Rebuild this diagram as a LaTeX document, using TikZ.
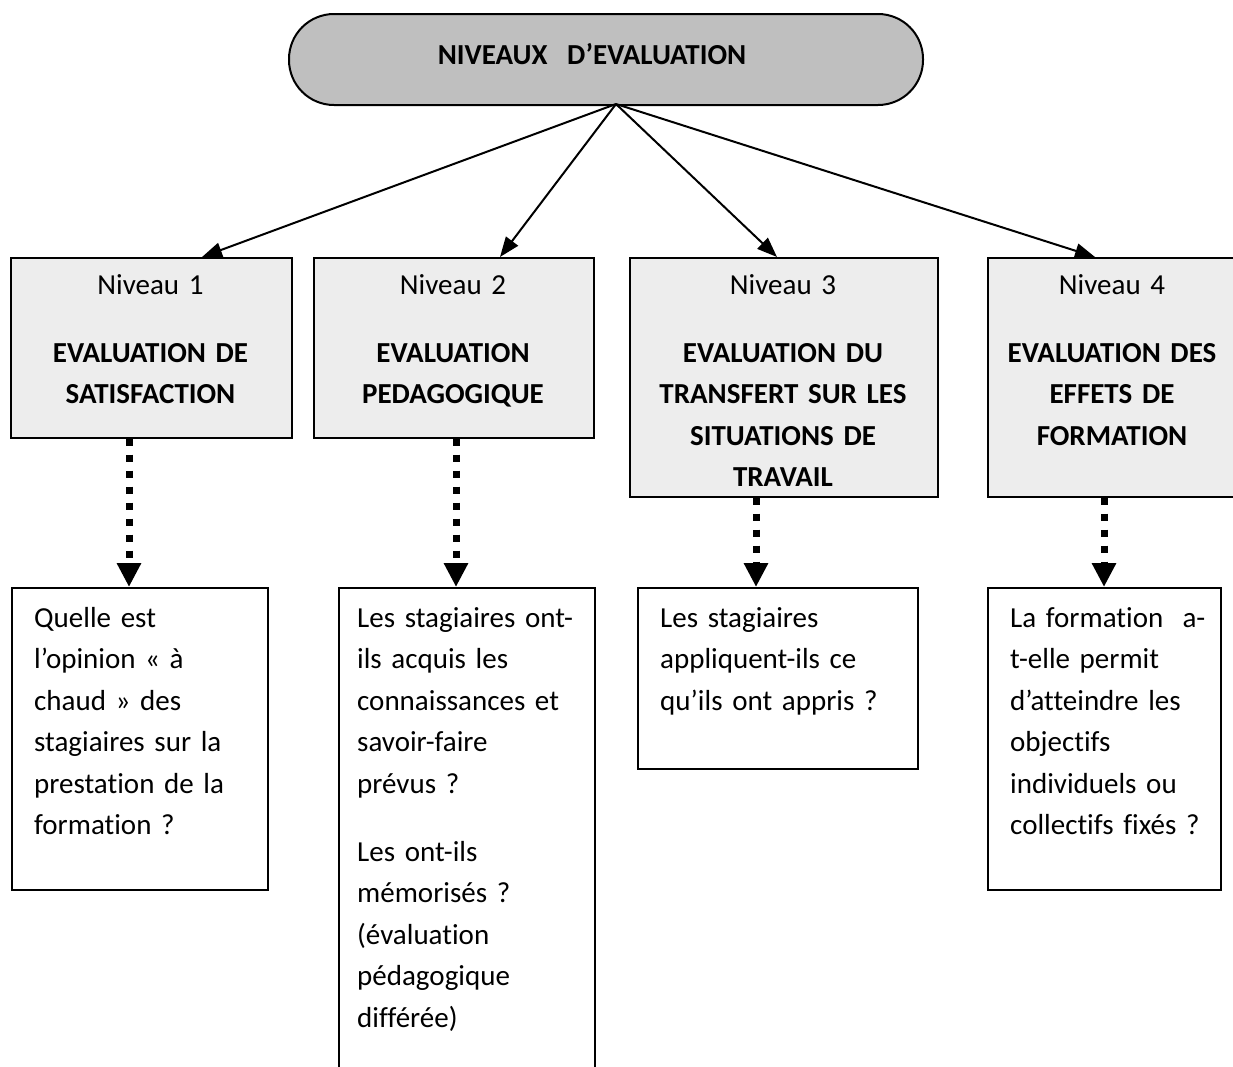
\documentclass[tikz,border=0pt]{standalone}
\usepackage{fontspec}
\setmainfont[Ligatures=NoCommon]{Carlito}
\usetikzlibrary{arrows.meta}
\definecolor{topgray}{HTML}{BFBFBF}
\definecolor{lvlgray}{HTML}{EDEDED}
\begin{document}
\begin{tikzpicture}[x=1pt,y=-1pt,
  topbox/.style={draw=black, line width=2pt, fill=topgray, rounded corners=45pt, inner sep=0pt, anchor=north west},
  lvlbox/.style={draw=black, line width=1.6pt, fill=lvlgray, inner sep=0pt, anchor=north west},
  ansbox/.style={draw=black, line width=1.6pt, fill=white, inner sep=0pt, anchor=north west},
  ltxt/.style={inner sep=0pt, text width=320pt, align=left, anchor=base west, font=\fontsize{29}{41.5}\selectfont},
  ctxt/.style={inner sep=0pt, text width=320pt, align=center, anchor=base, font=\fontsize{29}{41.5}\selectfont},
  link/.style={line width=2pt, -{Triangle[length=20pt,width=15pt]}},
  dotarrow/.style={line width=7pt, dash pattern=on 7pt off 9pt, -{Triangle[length=24pt,width=23pt]}}
]
\clip (0,0) rectangle (1233,1066);
\fill[white] (0,0) rectangle (1233,1066);

% top box
\node[topbox, minimum width=634pt, minimum height=91pt] (top) at (288,13) {};
\node[anchor=base, inner sep=0pt, font=\fontsize{29}{41.5}\selectfont\bfseries] (title) at (592,64) {NIVEAUX~~~D’EVALUATION};
\coordinate (apex) at (616,104);

% level boxes
\node[lvlbox, minimum width=281pt, minimum height=180pt] (l1) at (10,257) {};
\node[lvlbox, minimum width=280pt, minimum height=180pt] (l2) at (313,257) {};
\node[lvlbox, minimum width=308pt, minimum height=239pt] (l3) at (629,257) {};
\node[lvlbox, minimum width=270pt, minimum height=239pt] (l4) at (987,257) {};

\node[ctxt] (t1) at (150.5,294) {Niveau 1\\[26.5pt]\bfseries EVALUATION DE\\SATISFACTION};
\node[ctxt] (t2) at (453,294) {Niveau 2\\[26.5pt]\bfseries EVALUATION\\PEDAGOGIQUE};
\node[ctxt] (t3) at (783,294) {Niveau 3\\[26.5pt]\bfseries EVALUATION DU\\TRANSFERT SUR LES\\SITUATIONS DE\\TRAVAIL};
\node[ctxt] (t4) at (1112,294) {Niveau 4\\[26.5pt]\bfseries EVALUATION DES\\EFFETS DE\\FORMATION};

% answer boxes
\node[ansbox, minimum width=256pt, minimum height=302pt] (a1) at (11,587) {};
\node[ansbox, minimum width=256pt, minimum height=520pt] (a2) at (338,587) {};
\node[ansbox, minimum width=280pt, minimum height=181pt] (a3) at (637,587) {};
\node[ansbox, minimum width=233pt, minimum height=302pt] (a4) at (987,587) {};

\node[ltxt] (q1) at (34,627) {Quelle est\\l’opinion « à\\chaud » des\\stagiaires sur la\\prestation de la\\formation ?};
\node[ltxt] (q2) at (357,627) {Les stagiaires ont-\\ils acquis les\\connaissances et\\savoir-faire\\prévus ?\\[26.5pt]Les ont-ils\\mémorisés ?\\(évaluation\\pédagogique\\différée)};
\node[ltxt] (q3) at (660,627) {Les stagiaires\\appliquent-ils ce\\qu’ils ont appris ?};
\node[ltxt] (q4) at (1010,627) {La formation~~a-\\t-elle permit\\d’atteindre les\\objectifs\\individuels ou\\collectifs fixés ?};

% arrows
\draw[link] (apex) -- (202,0 |- l1.north);
\draw[link] (apex) -- (500,0 |- l2.north);
\draw[link] (apex) -- (777,0 |- l3.north);
\draw[link] (apex) -- (1095,0 |- l4.north);

\draw[dotarrow] (129,0 |- l1.south) -- (129,0 |- a1.north);
\draw[dotarrow] (456,0 |- l2.south) -- (456,0 |- a2.north);
\draw[dotarrow] (756,0 |- l3.south) -- (756,0 |- a3.north);
\draw[dotarrow] (1104,0 |- l4.south) -- (1104,0 |- a4.north);
\end{tikzpicture}
\end{document}
